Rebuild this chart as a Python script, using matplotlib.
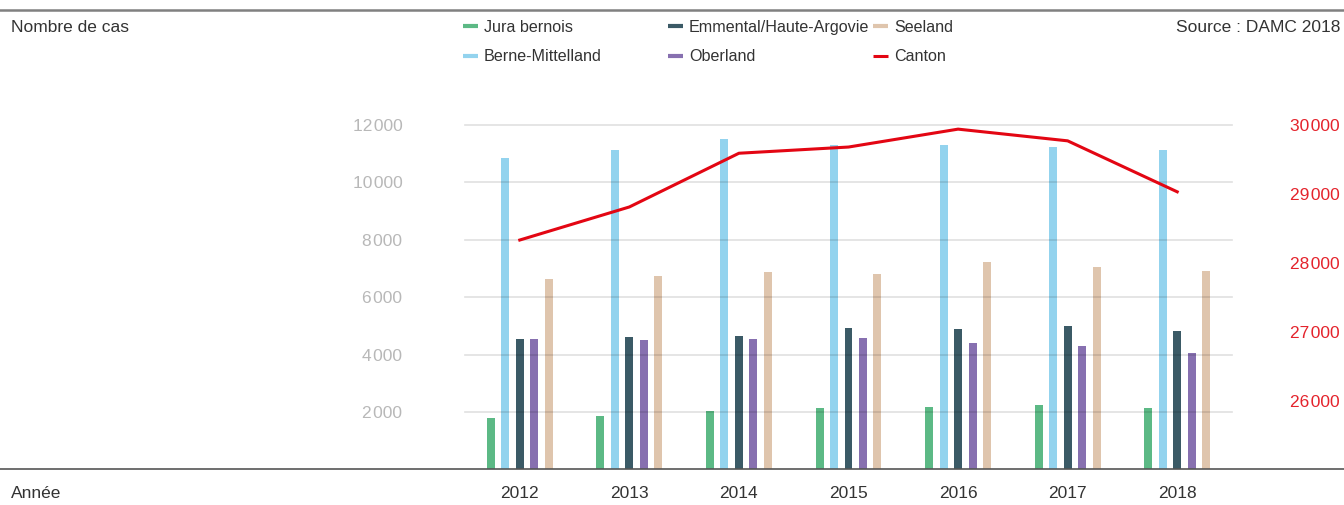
import matplotlib
matplotlib.use("Agg")
import matplotlib.pyplot as plt
import numpy as np
from matplotlib.lines import Line2D

plt.rcParams['font.family'] = ['Liberation Sans', 'DejaVu Sans']

years = ["2012", "2013", "2014", "2015", "2016", "2017", "2018"]
jura_bernois = [1790, 1860, 2030, 2140, 2180, 2240, 2140]
berne_mittelland = [10850, 11130, 11500, 11300, 11300, 11230, 11130]
emmental = [4540, 4620, 4650, 4930, 4890, 5000, 4820]
oberland = [4540, 4510, 4550, 4580, 4400, 4300, 4050]
seeland = [6630, 6740, 6880, 6810, 7230, 7050, 6910]
canton = [28330, 28810, 29590, 29680, 29940, 29770, 29030]

left_ticks = [2000, 4000, 6000, 8000, 10000, 12000]
right_ticks = [26000, 27000, 28000, 29000, 30000]

series = [
    ("Jura bernois", jura_bernois, "#5cb985"),
    ("Berne-Mittelland", berne_mittelland, "#93d3ee"),
    ("Emmental/Haute-Argovie", emmental, "#3b5a66"),
    ("Oberland", oberland, "#8770b0"),
    ("Seeland", seeland, "#dfc5ad"),
]
canton_color = "#e30613"
text_color = "#333333"

W, H = 1344, 505
fig = plt.figure(figsize=(W / 100, H / 100), dpi=100)
ax = fig.add_axes([465 / W, 1 - 469.4 / H, (1232 - 465) / W, (469.4 - 125) / H])
ax2 = ax.twinx()

x = np.arange(len(years))
step = 0.1323
bw = 0.073
for k, (name, vals, col) in enumerate(series):
    ax.bar(x + (k - 2) * step, vals, width=bw, color=col, zorder=1)

ax.set_xlim(-0.5, len(years) - 0.5)
ax.set_ylim(0, 12000)
ax2.set_ylim(25000, 30000)

def fmt(v):
    return f"{v:,}".replace(",", "\u200a")

ax.set_yticks(left_ticks)
ax.set_yticklabels([fmt(v) for v in left_ticks], color="#b8b8b8", fontsize=12.5)
ax.tick_params(axis='y', length=0, pad=45)
ax.set_xticks(x)
ax.set_xticklabels(years, color=text_color, fontsize=12.5)
ax.tick_params(axis='x', length=0, pad=12)

ax2.set_yticks(right_ticks)
ax2.set_yticklabels([fmt(v) for v in right_ticks], color="#e4232c", fontsize=12.5)
ax2.tick_params(axis='y', length=0, pad=42)
ax2.plot(x, canton, color=canton_color, lw=2.2, zorder=5)

for v in left_ticks:
    ax.axhline(v, color="black", alpha=0.12, lw=1.2, zorder=3, clip_on=False)

for a in (ax, ax2):
    for s in a.spines.values():
        s.set_visible(False)
ax.set_zorder(1)
ax2.set_zorder(2)
ax2.patch.set_visible(False)

# full-width rules
fig.add_artist(Line2D([0, 1], [1 - 10 / H, 1 - 10 / H], color="#808080", lw=1.8))
fig.add_artist(Line2D([0, 1], [1 - 469.4 / H, 1 - 469.4 / H], color="#555555", lw=1.2, zorder=10))

fig.text(11 / W, 1 - 32 / H, "Nombre de cas", color=text_color, fontsize=12.5, va="baseline", ha="left")
fig.text(11 / W, 1 - 498.5 / H, "Année", color=text_color, fontsize=12.5, va="baseline", ha="left")
fig.text(1340 / W, 1 - 32 / H, "Source : DAMC 2018", color=text_color, fontsize=12.5, va="baseline", ha="right")

# legend (manual layout)
legend_items = [
    ("Jura bernois", "#5cb985", 463, 31.7),
    ("Berne-Mittelland", "#93d3ee", 463, 61),
    ("Emmental/Haute-Argovie", "#3b5a66", 668, 31.7),
    ("Oberland", "#8770b0", 668, 61),
    ("Seeland", "#dfc5ad", 873, 31.7),
    ("Canton", canton_color, 873, 61),
]
for label, col, lx, ly in legend_items:
    lwid = 2.2 if label == "Canton" else 3.0
    hy = 1 - (ly - 5.5) / H
    fig.add_artist(Line2D([lx / W, (lx + 15) / W], [hy, hy], color=col, lw=lwid,
                          solid_capstyle="butt"))
    fig.text((lx + 21) / W, 1 - ly / H, label, color=text_color, fontsize=11.6,
             va="baseline", ha="left")

fig.savefig("out.png", dpi=100)
